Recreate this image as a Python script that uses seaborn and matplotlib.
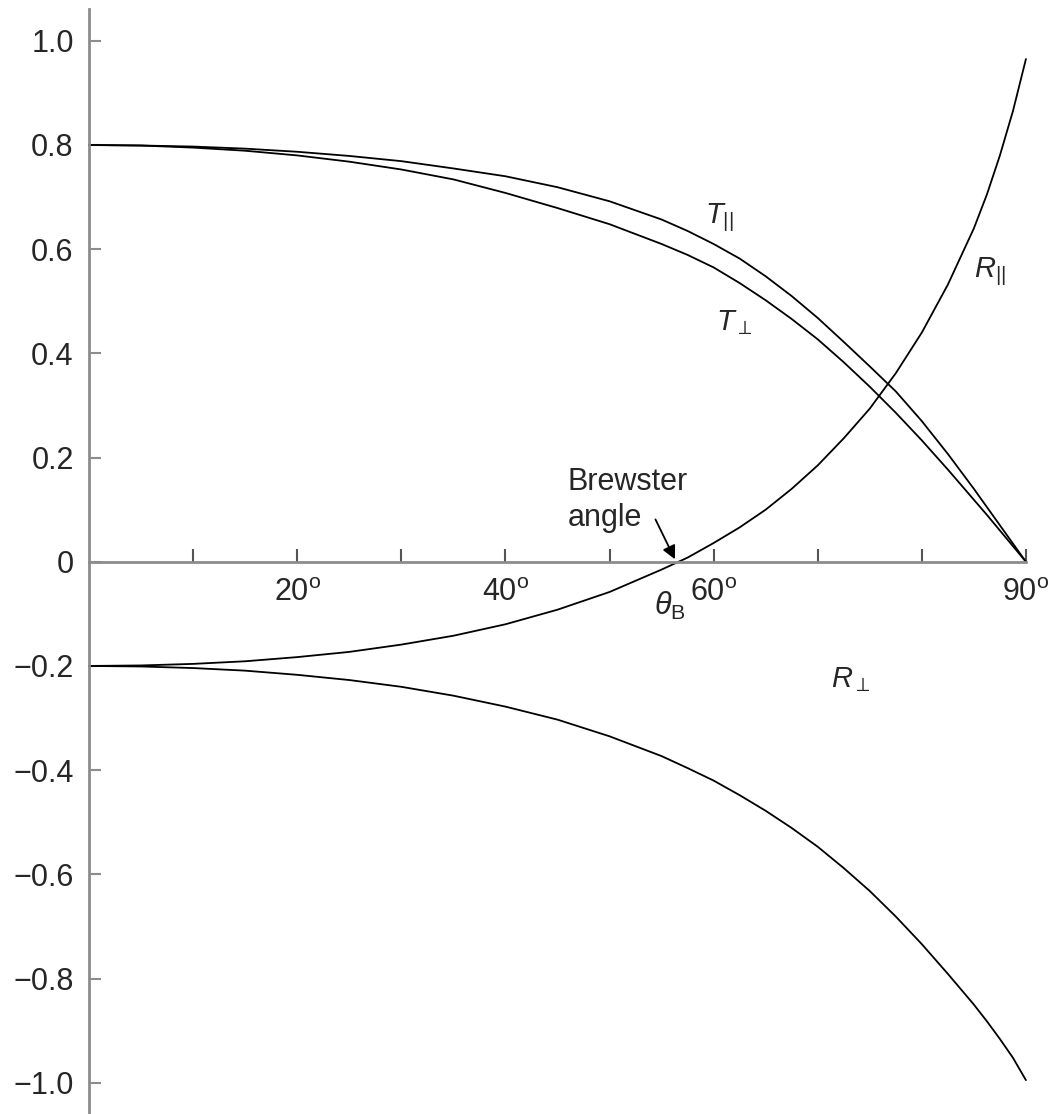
"""Fresnel amplitude coefficients vs angle of incidence."""
import matplotlib
import matplotlib.pyplot as plt
import pandas as pd
import seaborn as sns

matplotlib.use("Agg")
sns.set_style("white")
plt.rcParams["font.family"] = ["Liberation Sans", "DejaVu Sans"]
plt.rcParams["mathtext.fontset"] = "custom"
plt.rcParams["mathtext.rm"] = "Liberation Sans"
plt.rcParams["mathtext.it"] = "Liberation Sans:italic"
plt.rcParams["axes.unicode_minus"] = True

# angle of incidence (degrees) and curves
angle = [0, 5, 10, 15, 20, 25, 30, 35, 40, 45, 50, 55, 57.5, 60, 62.5, 65,
         67.5, 70, 72.5, 75, 77.5, 80, 82.5, 85, 86.25, 87.5, 88.75, 90]
t_par = [0.800, 0.799, 0.797, 0.793, 0.787, 0.779, 0.769, 0.755, 0.740, 0.719,
         0.692, 0.657, 0.635, 0.610, 0.582, 0.548, 0.510, 0.468, 0.422, 0.375,
         0.327, 0.270, 0.207, 0.140, 0.105, 0.070, 0.035, 0.0]
t_perp = [0.800, 0.799, 0.795, 0.789, 0.780, 0.768, 0.753, 0.734, 0.708, 0.679,
          0.648, 0.610, 0.589, 0.565, 0.535, 0.502, 0.466, 0.427, 0.383, 0.336,
          0.286, 0.233, 0.177, 0.119, 0.090, 0.060, 0.030, 0.0]
r_par = [-0.200, -0.199, -0.196, -0.191, -0.183, -0.173, -0.159, -0.142, -0.120,
         -0.092, -0.058, -0.015, 0.008, 0.036, 0.066, 0.100, 0.140, 0.185, 0.237,
         0.294, 0.362, 0.440, 0.532, 0.640, 0.705, 0.780, 0.865, 0.965]
r_perp = [-0.200, -0.201, -0.204, -0.209, -0.217, -0.227, -0.240, -0.257, -0.278,
          -0.303, -0.335, -0.373, -0.396, -0.420, -0.448, -0.478, -0.511, -0.547,
          -0.588, -0.632, -0.681, -0.734, -0.791, -0.850, -0.882, -0.916, -0.952,
          -0.995]

yticks = [1.0, 0.8, 0.6, 0.4, 0.2, 0.0, -0.2, -0.4, -0.6, -0.8, -1.0]
ytick_labels = ["1.0", "0.8", "0.6", "0.4", "0.2", "0", "\u22120.2", "\u22120.4",
                "\u22120.6", "\u22120.8", "\u22121.0"]
xticks = [10, 20, 30, 40, 50, 60, 70, 80, 90]
xtick_labels = ["", "20$^{\\mathrm{o}}$", "", "40$^{\\mathrm{o}}$", "",
                "60$^{\\mathrm{o}}$", "", "", "90$^{\\mathrm{o}}$"]

df = pd.DataFrame({"angle": angle, "t_par": t_par, "t_perp": t_perp,
                   "r_par": r_par, "r_perp": r_perp})

fig = plt.figure(figsize=(10.53, 11.14), dpi=100)
ax = fig.add_axes([0.0845, 0.0, 0.8898, 0.9919])

for col in ["t_par", "t_perp", "r_par", "r_perp"]:
    sns.lineplot(data=df, x="angle", y=col, color="black", linewidth=1.3,
                 ax=ax, clip_on=False)

ax.set_xlim(0, 90)
ax.set_ylim(-1.060, 1.061)
ax.set_xlabel("")
ax.set_ylabel("")

for side in ["top", "right"]:
    ax.spines[side].set_visible(False)
ax.spines["bottom"].set_position(("data", 0))
for side in ["left", "bottom"]:
    ax.spines[side].set_color("#8c8c8c")
    ax.spines[side].set_linewidth(2.0)

ax.set_yticks(yticks)
ax.set_yticklabels(ytick_labels, fontsize=22)
ax.set_xticks(xticks)
ax.set_xticklabels(xtick_labels, fontsize=22)
ax.tick_params(axis="y", left=True, direction="in", length=8.6, width=1.5,
               color="#8c8c8c", pad=11)
ax.tick_params(axis="x", bottom=True, direction="in", length=9.5, width=1.5,
               color="#555555", pad=12)

ax.text(55.8, -0.085, r"$\theta_{\mathrm{B}}$", fontsize=22, ha="center",
        va="center")
ax.text(46.0, 0.118, "Brewster\nangle", fontsize=22, ha="left", va="center",
        linespacing=1.25)
ax.annotate("", xy=(56.4, 0.0), xytext=(54.3, 0.086),
            arrowprops=dict(arrowstyle="-|>", color="black", lw=1.3,
                            mutation_scale=20))

ax.text(60.5, 0.66, r"$T_{||}$", fontsize=21, ha="center", va="center")
ax.text(62.0, 0.46, r"$T_{\perp}$", fontsize=21, ha="center", va="center")
ax.text(86.5, 0.556, r"$R_{||}$", fontsize=21, ha="center", va="center")
ax.text(73.2, -0.227, r"$R_{\perp}$", fontsize=21, ha="center", va="center")

fig.savefig("out.png", dpi=100)
plt.close(fig)
